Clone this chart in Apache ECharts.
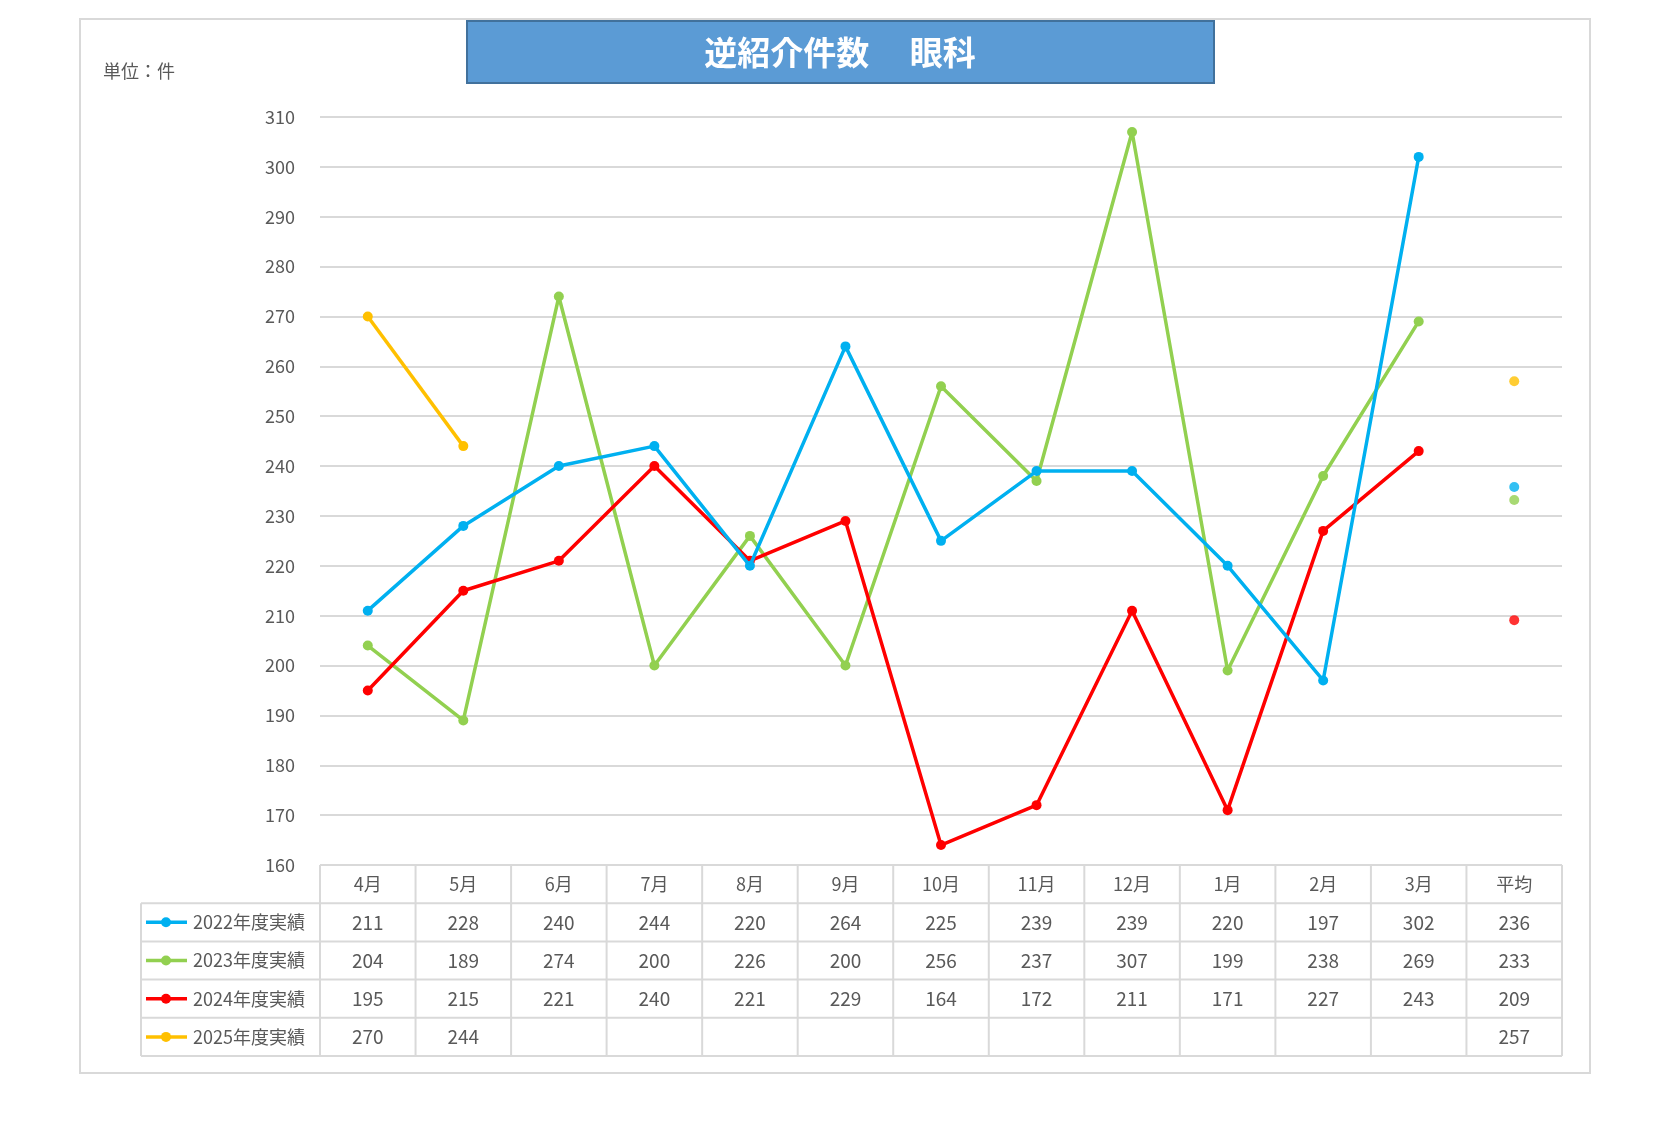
<!DOCTYPE html>
<html><head><meta charset="utf-8">
<script src="https://cdn.jsdelivr.net/npm/echarts@6/dist/echarts.min.js"></script>
<style>html,body{margin:0;background:#fff}#c{width:1654px;height:1141px}</style>
</head><body><div id="c"></div>
<script>
var months = ['4月','5月','6月','7月','8月','9月','10月','11月','12月','1月','2月','3月','平均'];
var names = ['2022年度実績','2023年度実績','2024年度実績','2025年度実績'];
var colors = ['#00b0f0','#92d050','#ff0000','#ffc000'];
var v2022 = [211,228,240,244,220,264,225,239,239,220,197,302];
var v2023 = [204,189,274,200,226,200,256,237,307,199,238,269];
var v2024 = [195,215,221,240,221,229,164,172,211,171,227,243];
var v2025 = [270,244];
var avgs = [236,233,209,257];
var avgPlot = [235.8,233.2,209.1,257.0];
var values = [v2022,v2023,v2024,v2025];

var chart = echarts.init(document.getElementById('c'));
var font = "'Noto Sans CJK JP', sans-serif";
var L = 320, R = 1562, T = 117, B = 865, rowH = 38.2, lblL = 141;
var colW = (R - L) / months.length;

var series = [];
values.forEach(function (v, i) {
  series.push({name: names[i], type: 'line', data: v, symbol: 'circle', symbolSize: 10,
    lineStyle: {width: 3.5, color: colors[i]}, itemStyle: {color: colors[i]}, z: 3 + (i === 0 ? 1 : 0)});
  var a = months.map(function () { return null; });
  a[12] = avgPlot[i];
  series.push({type: 'scatter', data: a, symbolSize: 10, itemStyle: {color: colors[i]}});
});

var g = [];
g.push({type: 'rect', shape: {x: 80, y: 19, width: 1510, height: 1054}, style: {fill: 'none', stroke: '#d9d9d9', lineWidth: 2}});
g.push({type: 'rect', shape: {x: 467, y: 21, width: 747, height: 62}, style: {fill: '#5b9bd5', stroke: '#41719c', lineWidth: 2}});
g.push({type: 'text', x: 840, y: 52, style: {text: '逆紹介件数　 眼科', fill: '#fff', font: 'bold 33px ' + font, align: 'center', verticalAlign: 'middle'}});
g.push({type: 'text', x: 103, y: 71, style: {text: '単位：件', fill: '#595959', font: '18px ' + font, verticalAlign: 'middle'}});
var lc = '#d9d9d9';
for (var r = 0; r <= 5; r++) {
  var y = B + r * rowH;
  g.push({type: 'line', shape: {x1: r === 0 ? L : lblL, y1: y, x2: R, y2: y}, style: {stroke: lc, lineWidth: 2}});
}
for (var c = 0; c <= months.length; c++) {
  var x = L + c * colW;
  g.push({type: 'line', shape: {x1: x, y1: B, x2: x, y2: B + 5 * rowH}, style: {stroke: lc, lineWidth: 2}});
}
g.push({type: 'line', shape: {x1: lblL, y1: B + rowH, x2: lblL, y2: B + 5 * rowH}, style: {stroke: lc, lineWidth: 2}});
months.forEach(function (m, c) {
  g.push({type: 'text', x: L + (c + 0.5) * colW, y: B + rowH / 2, style: {text: m, fill: '#595959', font: '18px ' + font, align: 'center', verticalAlign: 'middle'}});
});
values.forEach(function (v, i) {
  var yc = B + (i + 1.5) * rowH;
  g.push({type: 'line', shape: {x1: 146, y1: yc, x2: 187, y2: yc}, style: {stroke: colors[i], lineWidth: 3.5}});
  g.push({type: 'circle', shape: {cx: 166, cy: yc, r: 5}, style: {fill: colors[i]}});
  g.push({type: 'text', x: 193, y: yc, style: {text: names[i], fill: '#595959', font: '18px ' + font, verticalAlign: 'middle'}});
  v.concat(months.slice(v.length, 12).map(function () { return ''; })).concat([avgs[i]]).forEach(function (val, c) {
    g.push({type: 'text', x: L + (c + 0.5) * colW, y: yc, style: {text: String(val), fill: '#595959', font: '19px ' + font, align: 'center', verticalAlign: 'middle'}});
  });
});

chart.setOption({
  animation: false,
  textStyle: {fontFamily: font},
  grid: {left: L, right: 1654 - R, top: T, bottom: 1141 - B},
  xAxis: {type: 'category', data: months, axisLabel: {show: false}, axisTick: {show: false},
    axisLine: {show: false}},
  yAxis: {type: 'value', min: 160, max: 310, interval: 10,
    axisLabel: {color: '#595959', fontSize: 18, margin: 25},
    axisLine: {show: false}, axisTick: {show: false},
    splitLine: {lineStyle: {color: '#d9d9d9', width: 2}}},
  series: series,
  graphic: g
});
</script></body></html>
